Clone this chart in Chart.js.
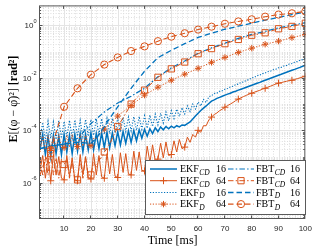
<!DOCTYPE html>
<html><head><meta charset="utf-8">
<script src="https://cdn.jsdelivr.net/npm/chart.js@4.4.1/dist/chart.umd.min.js"></script>
<style>html,body{margin:0;padding:0;background:#fff;overflow:hidden}canvas{display:block}</style>
</head><body>
<canvas id="c" width="317" height="249"></canvas>
<script>
// ---------- data ----------
const timeMs = [1,2,3,4,5,6,7,8,9,10,11,12,13,14,15,16,17,18,19,20,21,22,23,24,25,26,27,28,29,30,31,32,33,34,35,36,37,38,39,40,41,42,43,44,45,46,47,48,49,50,51,52,53,54,55,56,57,58,59,60,61,62,63,64,65,66,67,68,69,70,71,72,73,74,75,76,77,78,79,80,81,82,83,84,85,86,87,88,89,90,91,92,93,94,95,96,97,98,99,100];

const ekfCd16 = [2e-5,7e-5,1.2e-5,6e-5,1e-5,6.5e-5,1.3e-5,6e-5,1.2e-5,7e-5,
1.5e-5,6.5e-5,1.3e-5,7e-5,1.6e-5,7.5e-5,1.5e-5,7e-5,1.8e-5,8e-5,
1.8e-5,7.5e-5,2e-5,8e-5,2.2e-5,8.5e-5,2.2e-5,8e-5,2.6e-5,9e-5,
2.8e-5,9e-5,3.2e-5,9.5e-5,3.5e-5,1e-4,4e-5,1.05e-4,5e-5,1.1e-4,
6e-5,1.15e-4,7.5e-5,1.25e-4,9e-5,1.35e-4,1.05e-4,1.4e-4,1.15e-4,1.45e-4,
1.25e-4,1.5e-4,1.35e-4,1.6e-4,1.55e-4,1.8e-4,2.1e-4,2.7e-4,3.5e-4,4.5e-4,
5.7e-4,7e-4,8.5e-4,1.05e-3,1.3e-3,1.45e-3,1.65e-3,1.8e-3,2e-3,2.2e-3,
2.4e-3,2.6e-3,2.9e-3,3.1e-3,3.4e-3,3.7e-3,4e-3,4.4e-3,4.8e-3,5.2e-3,
5.7e-3,6.2e-3,6.7e-3,7.4e-3,8.1e-3,8.8e-3,9.6e-3,1.05e-2,1.15e-2,1.26e-2,
1.37e-2,1.5e-2,1.63e-2,1.78e-2,1.95e-2,2.1e-2,2.3e-2,2.5e-2,2.75e-2,3e-2];

const ekfCd64 = [3e-6,1.1e-5,1.5e-6,9e-6,1.2e-6,1.2e-5,2e-6,1e-5,1.5e-6,1.3e-6,
1.1e-5,1.8e-6,9e-6,1.3e-6,1.2e-6,1.2e-5,2e-6,1e-5,1.6e-6,1.4e-6,
1.3e-5,2e-6,1.1e-5,1.7e-6,1.5e-6,1.3e-5,2.2e-6,1.2e-5,1.8e-6,1.6e-6,
1.4e-5,2.5e-6,1.3e-5,2.2e-6,2e-6,1.6e-5,3e-6,1.5e-5,3e-6,2.8e-6,
2.5e-5,6e-6,2.8e-5,7e-6,8e-6,3.2e-5,9e-6,3.6e-5,1.1e-5,1.2e-5,
4e-5,1.5e-5,4.5e-5,2e-5,2.3e-5,5.5e-5,3.5e-5,7e-5,5.5e-5,1e-4,
8.5e-5,1.5e-4,1.5e-4,2.5e-4,3.2e-4,4e-4,4.6e-4,5.6e-4,6.4e-4,7.6e-4,
8.8e-4,1e-3,1.15e-3,1.35e-3,1.55e-3,1.75e-3,1.95e-3,2.15e-3,2.4e-3,2.6e-3,
2.85e-3,3.1e-3,3.35e-3,3.7e-3,4e-3,4.4e-3,4.8e-3,5.3e-3,5.8e-3,6.3e-3,
6.6e-3,7e-3,7.4e-3,7.8e-3,8.1e-3,8.7e-3,9.3e-3,1e-2,1.07e-2,1.15e-2];

const ekfD16 = [5e-5,2e-4,4e-5,2.2e-4,5e-5,2.1e-4,4.5e-5,2.3e-4,5e-5,2.2e-4,
5.5e-5,2.4e-4,5e-5,2.5e-4,6e-5,2.4e-4,5.5e-5,2.6e-4,6e-5,2.6e-4,
6.5e-5,2.7e-4,7e-5,2.8e-4,7e-5,2.9e-4,7.5e-5,2.9e-4,8e-5,3e-4,
8.5e-5,3.1e-4,9e-5,3.2e-4,9.5e-5,3.3e-4,1e-4,3.4e-4,1.1e-4,3.6e-4,
1.2e-4,3.8e-4,1.4e-4,4.1e-4,1.6e-4,4.5e-4,1.9e-4,5e-4,2.3e-4,5.6e-4,
2.8e-4,6.4e-4,3.4e-4,7.3e-4,4.2e-4,8.5e-4,5.2e-4,1e-3,6.5e-4,1.2e-3,
8.5e-4,1.5e-3,1.15e-3,1.9e-3,2.1e-3,2.55e-3,2.6e-3,3.1e-3,3.2e-3,3.7e-3,
3.9e-3,4.5e-3,4.8e-3,5.5e-3,5.8e-3,6.7e-3,7e-3,8e-3,8.6e-3,1e-2,
1.05e-2,1.22e-2,1.27e-2,1.45e-2,1.52e-2,1.72e-2,1.8e-2,2.05e-2,2.12e-2,2.42e-2,
2.5e-2,2.85e-2,2.95e-2,3.35e-2,3.5e-2,3.95e-2,4.15e-2,4.7e-2,4.95e-2,5.6e-2];

const ekfD64T = [1,2,3,4,5,6,7,8,9,10,11,12,13,14,15,16,17,18,19,20,21,22,23,24,25,30,35,40,45,50,55,60,65,70,75,80,85,90,95,100];
const ekfD64 = [1.5e-5,6e-5,1.8e-5,6.5e-5,2e-5,6e-5,2e-5,7e-5,2.2e-5,2.2e-5,6.5e-5,2.3e-5,7e-5,2.4e-5,2.4e-5,7e-5,2.5e-5,6.5e-5,2.6e-5,2.6e-5,5e-5,5e-5,6.5e-5,8.5e-5,
1.12e-4,3.5e-4,8.9e-4,2.2e-3,4.4e-3,8.1e-3,1.38e-2,2.3e-2,3.9e-2,6e-2,9.3e-2,0.135,0.19,0.25,0.34,0.45];

const fbtCd16T = [1,5,10,12,15,20,25,30,35,40,45,50,55,60,65,70,75,80,85,90,95,100];
const fbtCd16 = [2e-5,2.5e-5,3e-5,3.5e-5,5e-5,1.8e-4,5e-4,1.1e-3,2e-3,4e-3,1.1e-2,2.4e-2,4.4e-2,8.7e-2,0.138,0.21,0.32,0.45,0.59,0.8,1.0,1.26];

const fbtCd64T = [1,2,3,4,5,6,7,8,9,10,11,12,13,14,15,16,17,18,19,20,21,22,23,24,25,26,27,28,29,30,32,35,37,40,45,50,55,60,65,70,75,80,85,90,95,100];
const fbtCd64 = [8e-6,2e-6,1e-5,2e-6,1.3e-5,2e-6,9e-6,1.5e-6,8e-6,5e-6,8e-6,1.5e-6,7e-6,1.2e-6,1.3e-6,8e-6,1.5e-6,9e-6,2e-6,2e-6,6e-6,4e-6,8e-6,9e-6,1.5e-5,
2e-5,3e-5,5e-5,8e-5,1.4e-4,3e-4,1e-3,1.7e-3,3.4e-3,1.05e-2,2.2e-2,4e-2,8.3e-2,0.13,0.2,0.29,0.42,0.52,0.74,0.91,1.2];

const fbtD16T = [1,5,10,15,20,22,25,30,35,40,45,50,55,60,65,70,75,80,85,90,95,100];
const fbtD16 = [2e-5,2.5e-5,3e-5,3.5e-5,3.2e-5,5e-5,1.4e-4,7.9e-4,4e-3,1.78e-2,5.9e-2,0.112,0.2,0.347,0.5,0.71,0.93,1.2,1.58,2.0,2.57,3.16];

const fbtD64T = [1,2,3,4,5,10,15,20,25,30,35,40,45,50,55,60,65,70,75,80,85,90,95,100];
const fbtD64 = [2e-6,4e-6,7e-6,1.1e-5,1.8e-5,7.9e-4,4e-3,1.32e-2,3.2e-2,6e-2,0.105,0.158,0.25,0.37,0.5,0.69,0.89,1.15,1.41,1.7,2.14,2.57,2.88,3.39];

const xTickValues = [10,20,30,40,50,60,70,80,90,100];
const yTickValues = [1,1e-2,1e-4,1e-6];
const yTickExponents = ['0','-2','-4','-6'];
const Y_MIN = 4.2e-8, Y_MAX = 5.75;

// ---------- styles ----------
const BLUE = '#0072BD', ORANGE = '#D95319';
const SERIF = '"Liberation Serif","DejaVu Serif",serif';
const SANS = '"Liberation Sans",Arial,sans-serif';
const DASH = [5.5,3], DASHDOT = [5.5,2.2,1.5,2.2], DOT = [1.2,1.6];

function pts(ts, vs){ return ts.map((t,i)=>({x:t,y:vs[i]})); }
function every5(r){ return ctx => (ctx.raw && ctx.raw.x % 5 === 0) ? r : 0; }

const seriesDefs = [
  {label:'EKF_CD 16', data:pts(timeMs,ekfCd16), color:BLUE, dash:[], w:1.5, ps:'circle', r:0},
  {label:'EKF_CD 64', data:pts(timeMs,ekfCd64), color:ORANGE, dash:[], w:1, ps:'cross', r:3.5},
  {label:'EKF_D 16', data:pts(timeMs,ekfD16), color:BLUE, dash:DOT, w:1.1, ps:'circle', r:0},
  {label:'EKF_D 64', data:pts(ekfD64T,ekfD64), color:ORANGE, dash:DOT, w:1, ps:'star', r:3.2},
  {label:'FBT_CD 16', data:pts(fbtCd16T,fbtCd16), color:BLUE, dash:DASHDOT, w:1.2, ps:'circle', r:0},
  {label:'FBT_CD 64', data:pts(fbtCd64T,fbtCd64), color:ORANGE, dash:DASHDOT, w:1, ps:'rect', r:4.4},
  {label:'FBT_D 16', data:pts(fbtD16T,fbtD16), color:BLUE, dash:DASH, w:1.3, ps:'circle', r:0},
  {label:'FBT_D 64', data:pts(fbtD64T,fbtD64), color:ORANGE, dash:DASH, w:1.1, ps:'circle', r:3.6}
];

const datasets = seriesDefs.map((s,i)=>({
  label:s.label, data:s.data, borderColor:s.color, borderWidth:s.w, borderDash:s.dash,
  backgroundColor:'rgba(0,0,0,0)', fill:false, tension:0,
  pointStyle:s.ps, pointRadius: s.r ? every5(s.r) : 0, pointHoverRadius:0,
  pointBorderColor:s.color, pointBackgroundColor:'rgba(0,0,0,0)', pointBorderWidth:1,
  order: 7 - i
}));

function marker(ctx, style, x, y, r){
  if(!r) return;
  ctx.beginPath();
  if(style==='circle'){ ctx.arc(x,y,r,0,Math.PI*2); }
  else if(style==='rect'){ const s=r*Math.SQRT1_2; ctx.rect(x-s,y-s,2*s,2*s); }
  else if(style==='cross'){ ctx.moveTo(x-r,y);ctx.lineTo(x+r,y);ctx.moveTo(x,y-r);ctx.lineTo(x,y+r); }
  else if(style==='star'){ const d=r*Math.SQRT1_2; ctx.moveTo(x-r,y);ctx.lineTo(x+r,y);ctx.moveTo(x,y-r);ctx.lineTo(x,y+r);
    ctx.moveTo(x-d,y-d);ctx.lineTo(x+d,y+d);ctx.moveTo(x-d,y+d);ctx.lineTo(x+d,y-d); }
  ctx.stroke();
}

const legendRows = [
  [{b:'EKF',s:'CD',n:'16',i:0},{b:'FBT',s:'CD',n:'16',i:4}],
  [{b:'EKF',s:'CD',n:'64',i:1},{b:'FBT',s:'CD',n:'64',i:5}],
  [{b:'EKF',s:'D',n:'16',i:2},{b:'FBT',s:'D',n:'16',i:6}],
  [{b:'EKF',s:'D',n:'64',i:3},{b:'FBT',s:'D',n:'64',i:7}]
];

const framePlugin = {
  id:'frame',
  beforeDatasetsDraw(chart){
    const {ctx, chartArea:a, scales:{x,y}} = chart;
    ctx.save();
    ctx.lineWidth = 1;
    const hline = py => { ctx.beginPath(); ctx.moveTo(a.left,py); ctx.lineTo(a.right,py); ctx.stroke(); };
    const vline = px => { ctx.beginPath(); ctx.moveTo(px,a.top); ctx.lineTo(px,a.bottom); ctx.stroke(); };
    // minor grid
    ctx.strokeStyle = '#dedede'; ctx.setLineDash([1,1.6]);
    for(let t=2;t<100;t+=2){ if(xTickValues.includes(t)) continue; vline(Math.round(x.getPixelForValue(t))+0.5); }
    for(let e=-8;e<=0;e++) for(let m=1;m<=9;m++){
      const v = m*Math.pow(10,e);
      if(v<Y_MIN||v>Y_MAX) continue;
      if(m===1 && yTickValues.includes(v)) continue;
      hline(Math.round(y.getPixelForValue(v))+0.5);
    }
    // major grid
    ctx.setLineDash([]); ctx.strokeStyle = '#e4e4e4';
    xTickValues.forEach(t=>{ if(t<100) vline(Math.round(x.getPixelForValue(t))+0.5); });
    yTickValues.forEach(v=>hline(Math.round(y.getPixelForValue(v))+0.5));
    ctx.restore();
  },
  afterDraw(chart){
    const {ctx, chartArea:a, scales:{x,y}} = chart;
    ctx.save();
    const L=a.left-0.5, R=a.right-0.5, T=a.top+0.5, B=a.bottom-0.5;
    // box
    ctx.strokeStyle = '#555'; ctx.lineWidth = 1; ctx.setLineDash([]);
    ctx.strokeRect(L,T,R-L,B-T);
    // ticks
    ctx.beginPath();
    xTickValues.forEach(t=>{ const px=Math.round(x.getPixelForValue(t))-0.5; ctx.moveTo(px,B);ctx.lineTo(px,B-3);ctx.moveTo(px,T);ctx.lineTo(px,T+3); });
    for(let e=-8;e<=0;e++) for(let m=1;m<=9;m++){
      const v=m*Math.pow(10,e); if(v<Y_MIN||v>Y_MAX) continue;
      const len = (m===1 && yTickValues.includes(v)) ? 3 : 1.6;
      const py=Math.round(y.getPixelForValue(v))+0.5;
      ctx.moveTo(L,py);ctx.lineTo(L+len,py);ctx.moveTo(R,py);ctx.lineTo(R-len,py);
    }
    ctx.stroke();
    // y tick labels 10^n
    ctx.fillStyle = '#262626'; ctx.textBaseline = 'middle'; ctx.textAlign = 'left';
    yTickValues.forEach((v,k)=>{
      const py = y.getPixelForValue(v);
      ctx.font = '5.6px '+SANS; const ew = ctx.measureText(yTickExponents[k]).width;
      ctx.font = '8px '+SANS; const bw = ctx.measureText('10').width;
      const xr = a.left - 3.5;
      ctx.fillText('10', xr-ew-bw, py+0.5);
      ctx.font = '5.6px '+SANS; ctx.fillText(yTickExponents[k], xr-ew, py-4);
    });
    // x title
    ctx.fillStyle = '#000'; ctx.textBaseline='alphabetic'; ctx.textAlign='center';
    ctx.font = '12px '+SERIF; ctx.fillText('Time [ms]', (a.left+a.right)/2, 244);
    // y title (rotated)
    const parts = [{t:'E',f:'bold 12px '+SERIF},{t:'[(φ − φ̂)²] ',f:'12px '+SERIF},{t:'[rad²]',f:'bold 12px '+SERIF}];
    let tw=0; parts.forEach(p=>{ctx.font=p.f; p.w=ctx.measureText(p.t).width; tw+=p.w;});
    ctx.translate(16.5, 99); ctx.rotate(-Math.PI/2); ctx.textAlign='left';
    let cx=-tw/2; parts.forEach(p=>{ctx.font=p.f; ctx.fillText(p.t,cx,0); cx+=p.w;});
    ctx.setTransform(1,0,0,1,0,0);
    // legend
    ctx.fillStyle='#fff'; ctx.fillRect(145.5,160.5,160,54);
    ctx.strokeStyle='#5a5a5a'; ctx.lineWidth=1; ctx.strokeRect(145.5,160.5,160,54);
    const cols=[{x0:150,x1:177,tx:180,nx:216},{x0:228,x1:254,tx:256,nx:290}];
    const base=[172.3,184.0,195.8,207.4];
    legendRows.forEach((row,ri)=>{
      row.forEach((e,ci)=>{
        const c=cols[ci], s=seriesDefs[e.i], ly=base[ri]-3.3;
        ctx.strokeStyle=s.color; ctx.lineWidth=s.w; ctx.setLineDash(s.dash);
        ctx.beginPath(); ctx.moveTo(c.x0,ly); ctx.lineTo(c.x1,ly); ctx.stroke();
        ctx.setLineDash([]); ctx.lineWidth=1; marker(ctx,s.ps,(c.x0+c.x1)/2,ly,s.r);
        ctx.fillStyle='#000'; ctx.textAlign='left'; ctx.textBaseline='alphabetic';
        ctx.font='10px '+SERIF; ctx.fillText(e.b,c.tx,base[ri]);
        const bw=ctx.measureText(e.b).width;
        ctx.font='italic 7.5px '+SERIF; ctx.fillText(e.s,c.tx+bw+0.3,base[ri]+2.6);
        ctx.font='10px '+SERIF; ctx.fillText(e.n,c.nx,base[ri]);
      });
    });
    ctx.restore();
  }
};

new Chart(document.getElementById('c'), {
  type:'line',
  data:{datasets},
  options:{
    responsive:false, animation:false, devicePixelRatio:1,
    layout:{padding:{left:0,right:7,top:5,bottom:0}},
    plugins:{legend:{display:false}, tooltip:{enabled:false}},
    scales:{
      x:{type:'linear', min:1, max:100,
        afterBuildTicks:s=>{ s.ticks = xTickValues.map(v=>({value:v})); },
        afterFit:s=>{ s.height = 30; },
        grid:{display:false, drawTicks:false}, border:{display:false},
        ticks:{autoSkip:false, maxRotation:0, padding:5, color:'#262626', font:{family:SANS, size:8}}},
      y:{type:'logarithmic', min:Y_MIN, max:Y_MAX,
        afterBuildTicks:s=>{ s.ticks = yTickValues.map(v=>({value:v})); },
        afterFit:s=>{ s.width = 40; },
        grid:{display:false, drawTicks:false}, border:{display:false},
        ticks:{display:false}}
    }
  },
  plugins:[framePlugin]
});
</script>
</body></html>
